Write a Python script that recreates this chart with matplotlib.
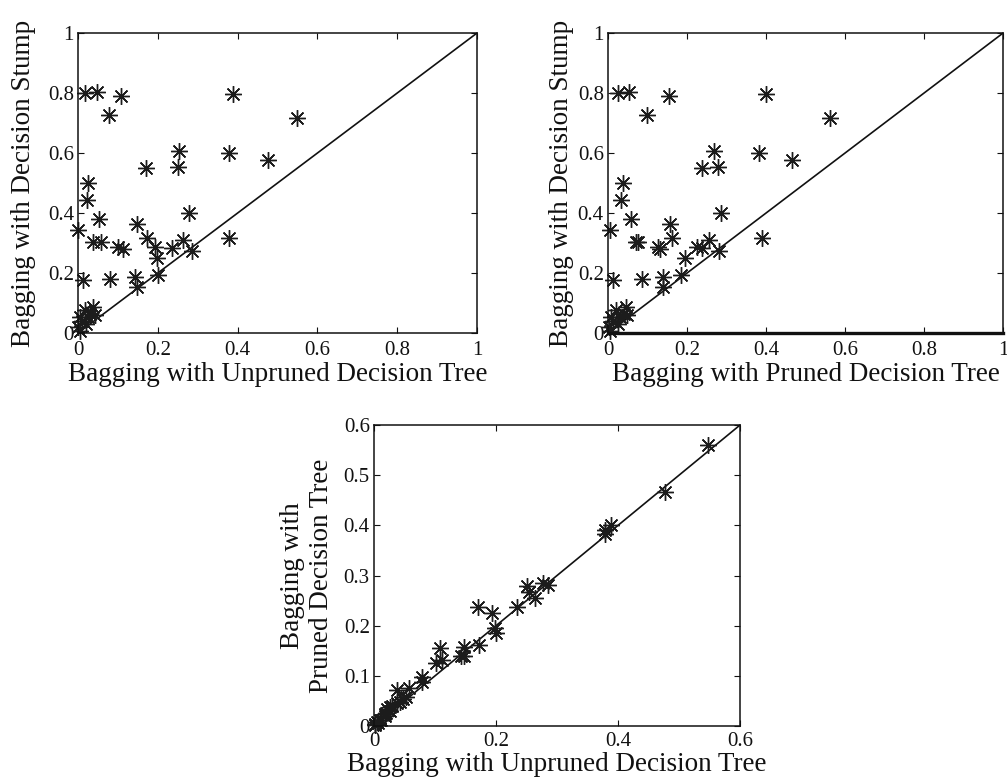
import matplotlib
matplotlib.use('Agg')
import matplotlib.pyplot as plt

plt.rcParams['font.family'] = ['Liberation Serif', 'DejaVu Serif']

# error rates per dataset for the three bagged learners
unpruned = [0.018, 0.048, 0.108, 0.078, 0.388, 0.548, 0.254, 0.251, 0.170, 0.379,
            0.477, 0.026, 0.022, 0.053, 0.001, 0.147, 0.277, 0.038, 0.057, 0.101,
            0.112, 0.172, 0.193, 0.199, 0.235, 0.264, 0.285, 0.379, 0.012, 0.079,
            0.143, 0.147, 0.200, 0.038, 0.018, 0.005, 0.026, 0.001, 0.010, 0.030,
            0.042, 0.020, 0.006]
pruned = [0.024, 0.053, 0.155, 0.098, 0.400, 0.561, 0.268, 0.279, 0.237, 0.383,
          0.466, 0.038, 0.034, 0.057, 0.004, 0.158, 0.285, 0.072, 0.076, 0.126,
          0.131, 0.162, 0.225, 0.195, 0.237, 0.256, 0.281, 0.390, 0.013, 0.087,
          0.140, 0.140, 0.185, 0.045, 0.020, 0.008, 0.030, 0.002, 0.012, 0.040,
          0.048, 0.025, 0.006]
stump = [0.799, 0.805, 0.790, 0.727, 0.796, 0.716, 0.606, 0.554, 0.551, 0.600,
         0.578, 0.500, 0.444, 0.379, 0.344, 0.362, 0.401, 0.304, 0.304, 0.288,
         0.281, 0.316, 0.286, 0.250, 0.282, 0.309, 0.273, 0.316, 0.177, 0.180,
         0.188, 0.152, 0.195, 0.088, 0.077, 0.054, 0.054, 0.020, 0.040, 0.065,
         0.060, 0.030, 0.008]

ticks_full = [0, 0.2, 0.4, 0.6, 0.8, 1]
ticks_small_x = [0, 0.2, 0.4, 0.6]
ticks_small_y = [0, 0.1, 0.2, 0.3, 0.4, 0.5, 0.6]

lbl_unpruned = 'Bagging with Unpruned Decision Tree'
lbl_pruned = 'Bagging with Pruned Decision Tree'
lbl_stump = 'Bagging with Decision Stump'
lbl_pruned2 = 'Bagging with\nPruned Decision Tree'


def fmt(v):
    return '%g' % v


def panel(ax, x, y, lim, xt, yt, xlabel, ylabel, xlc, ylc, xpad=6):
    ax.plot([0, lim], [0, lim], color='#111111', lw=1.2, zorder=1)
    ax.plot(x, y, ls='none', marker=(8, 2, 0), ms=12, mew=1.0,
            mec='#1c1c1c', zorder=2, clip_on=False)
    ax.set_xlim(0, lim)
    ax.set_ylim(0, lim)
    ax.set_xticks(xt)
    ax.set_xticklabels([fmt(v) for v in xt])
    ax.set_yticks(yt)
    ax.set_yticklabels([fmt(v) for v in yt])
    ax.tick_params(direction='in', top=True, right=True, length=4, width=0.8,
                   labelsize=15, colors='#111111')
    ax.tick_params(axis='x', pad=xpad)
    ax.tick_params(axis='y', pad=3)
    for s in ax.spines.values():
        s.set_linewidth(1.1)
        s.set_color('#111111')
    ax.set_xlabel(xlabel, fontsize=19.5, color='#111111')
    ax.set_ylabel(ylabel, fontsize=19.5, color='#111111', linespacing=1.2)
    ax.xaxis.set_label_coords(0.5, xlc)
    ax.yaxis.set_label_coords(ylc, 0.5)


fig = plt.figure(figsize=(10.07, 7.79), dpi=100)

ax1 = fig.add_axes([0.0775, 0.5725, 0.3962, 0.3851])
panel(ax1, unpruned, stump, 1, ticks_full, ticks_full,
      lbl_unpruned, lbl_stump, -0.095, -0.105)

ax2 = fig.add_axes([0.6038, 0.5725, 0.3923, 0.3851])
panel(ax2, pruned, stump, 1, ticks_full, ticks_full,
      lbl_pruned, lbl_stump, -0.095, -0.085)
ax2.spines['bottom'].set_linewidth(2.4)

ax3 = fig.add_axes([0.3714, 0.0680, 0.3635, 0.3864])
panel(ax3, unpruned, pruned, 0.6, ticks_small_x, ticks_small_y,
      lbl_unpruned, lbl_pruned2, -0.085, -0.11, xpad=4)

fig.savefig('out.png', dpi=100)
